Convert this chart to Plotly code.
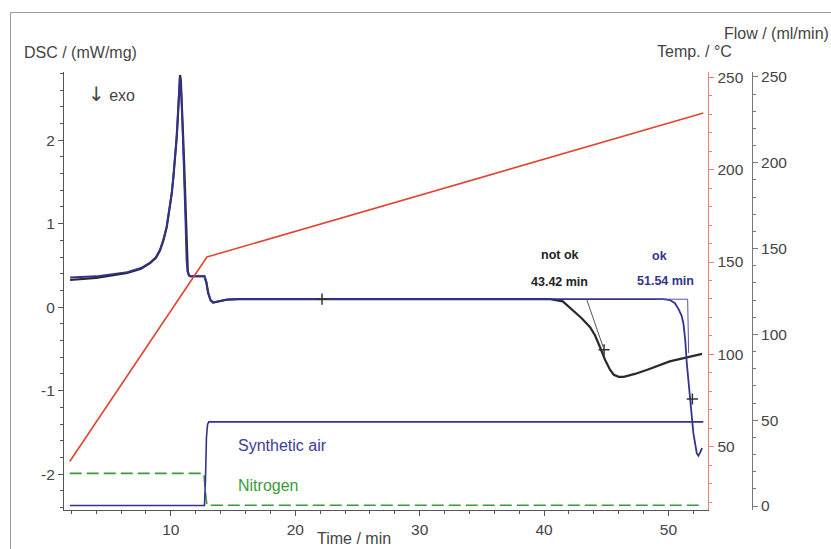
import plotly.graph_objects as go

# ---------------- data ----------------
# DSC, sample "not ok" (black)
t_dsc_black = [1.9, 4.0, 6.5, 7.6, 8.33, 8.8, 9.13, 9.4, 9.67, 9.9, 10.07, 10.2, 10.34, 10.45, 10.52, 10.6,
               10.68, 10.74, 10.8, 10.88, 10.97, 11.06, 11.17, 11.28, 11.36, 11.46, 11.55, 12.7, 12.85,
               13.0, 13.2, 13.4, 13.8, 14.5, 15.5, 22.0, 30.0, 38.0, 40.5,
               41.5, 42.36, 43.0, 43.7, 44.1, 44.5, 44.9, 45.3, 45.6, 46.0, 46.4, 47.3, 48.3, 50.1,
               51.5, 52.7]
dsc_black = [0.325, 0.35, 0.41, 0.46, 0.526, 0.59, 0.68, 0.80, 0.96, 1.17, 1.36, 1.55, 1.76, 2.0, 2.16, 2.4,
             2.65, 2.78, 2.72, 2.5, 2.1, 1.76, 1.15, 0.56, 0.43, 0.38, 0.37, 0.37, 0.30,
             0.17, 0.08, 0.056, 0.07, 0.09, 0.095, 0.095, 0.095, 0.095, 0.095,
             0.07, -0.04, -0.13, -0.24, -0.34, -0.48, -0.63, -0.75, -0.81, -0.835, -0.835, -0.80, -0.75, -0.65,
             -0.60, -0.56]

# DSC, sample "ok" (blue)
t_dsc_blue = [1.9, 4.0, 6.5, 7.6, 8.33, 8.8, 9.13, 9.4, 9.67, 9.9, 10.07, 10.2, 10.34, 10.45, 10.52, 10.6,
              10.66, 10.72, 10.78, 10.86, 10.95, 11.04, 11.15, 11.26, 11.34, 11.44, 11.55, 12.7, 12.85,
              13.0, 13.2, 13.4, 13.8, 14.5, 15.5, 22.0, 30.0, 40.0, 49.6,
              50.1, 50.5, 50.8, 51.05, 51.2, 51.35, 51.47, 51.74, 52.0, 52.27, 52.4, 52.55, 52.7]
dsc_blue = [0.355, 0.37, 0.42, 0.47, 0.535, 0.60, 0.69, 0.81, 0.97, 1.18, 1.37, 1.56, 1.77, 2.0, 2.17, 2.4,
            2.6, 2.75, 2.7, 2.5, 2.1, 1.76, 1.15, 0.56, 0.43, 0.38, 0.37, 0.37, 0.30,
            0.17, 0.08, 0.056, 0.07, 0.09, 0.095, 0.095, 0.095, 0.095, 0.095,
            0.085, 0.05, -0.02, -0.10, -0.195, -0.40, -0.67, -1.11, -1.51, -1.75, -1.78, -1.74, -1.69]

# Onset tangents
t_tan_black = [43.42, 44.74]
dsc_tan_black = [0.095, -0.475]
t_tan_blue = [49.0, 51.54, 51.62]
dsc_tan_blue = [0.095, 0.095, -0.55]

# Evaluation marks
t_marks = [22.15, 44.82, 51.92]
dsc_marks = [0.096, -0.51, -1.10]

# Temperature program
t_temp = [1.87, 12.9, 52.8]
temp = [42.0, 152.7, 230.7]

# Gas flows
t_air = [1.87, 12.7, 12.78, 12.86, 12.95, 13.05, 52.8]
flow_air = [0.3, 0.3, 15.0, 40.0, 47.5, 49.0, 49.0]
t_n2 = [1.87, 12.65, 12.78, 12.9, 52.8]
flow_n2 = [19.0, 19.0, 8.0, 0.4, 0.4]

# axis ticks
x_ticks = [10, 20, 30, 40, 50]
dsc_ticks = [-2, -1, 0, 1, 2]
dsc_labels = ["-2", "-1", "0", "1", "2"]
temp_ticks = [50, 100, 150, 200, 250]
flow_ticks = [0, 50, 100, 150, 200, 250]

# ---------------- styling ----------------
W, H = 831, 549
ML, MR, MT, MB = 64, 79, 72, 39
PW = W - ML - MR
PH = H - MT - MB
FONT = "Liberation Sans, Arial, sans-serif"
TXT = "#444444"
BLUE = "#33338f"
BLACK = "#2a2a2a"
RED = "#e2452f"
GREEN = "#3a9a3a"


def px(x):
    return (x - ML) / PW


def py(y):
    return (H - MB - y) / PH


fig = go.Figure()

fig.add_trace(go.Scatter(x=t_dsc_black, y=dsc_black, mode="lines",
                         line=dict(color=BLACK, width=2.2), yaxis="y", showlegend=False))
fig.add_trace(go.Scatter(x=t_dsc_blue, y=dsc_blue, mode="lines",
                         line=dict(color=BLUE, width=1.8), yaxis="y", showlegend=False))
fig.add_trace(go.Scatter(x=t_tan_black, y=dsc_tan_black, mode="lines",
                         line=dict(color="#555555", width=1), yaxis="y", showlegend=False))
fig.add_trace(go.Scatter(x=t_tan_blue, y=dsc_tan_blue, mode="lines",
                         line=dict(color="#5555aa", width=1), yaxis="y", showlegend=False))
fig.add_trace(go.Scatter(x=t_marks, y=dsc_marks, mode="markers",
                         marker=dict(symbol="cross-thin", size=8, line=dict(color="#333333", width=1.5)),
                         yaxis="y", showlegend=False))

fig.add_trace(go.Scatter(x=t_temp, y=temp, mode="lines",
                         line=dict(color=RED, width=1.6), yaxis="y2", showlegend=False))

fig.add_trace(go.Scatter(x=t_n2, y=flow_n2, mode="lines",
                         line=dict(color=GREEN, width=1.6, dash="12px,5px"), yaxis="y3", showlegend=False))
fig.add_trace(go.Scatter(x=t_air, y=flow_air, mode="lines",
                         line=dict(color=BLUE, width=1.6), yaxis="y3", showlegend=False))

dom_end = (708.3 - ML) / PW

axis_common = dict(showgrid=False, zeroline=False, showline=True, linewidth=1,
                   ticks="outside", ticklen=5, tickwidth=1,
                   tickfont=dict(family=FONT, size=15.5, color=TXT))

fig.update_layout(
    width=W, height=H,
    margin=dict(l=ML, r=MR, t=MT, b=MB),
    paper_bgcolor="white", plot_bgcolor="white",
    font=dict(family=FONT, color=TXT),
    xaxis=dict(domain=[0, dom_end], range=[1.41, 53.2], tickvals=x_ticks,
               linecolor="#555555", tickcolor="#555555",
               minor=dict(dtick=2, tick0=0, ticks="outside", ticklen=3, tickcolor="#555555"),
               **axis_common),
    yaxis=dict(range=[-2.43, 2.817], tickvals=dsc_ticks, ticktext=dsc_labels,
               linecolor="#555555", tickcolor="#555555",
               minor=dict(dtick=0.2, tick0=0, ticks="outside", ticklen=3, tickcolor="#555555"),
               **axis_common),
    yaxis2=dict(overlaying="y", side="right", anchor="x", range=[15.7, 252.9], tickvals=temp_ticks,
                linecolor="#e88080", tickcolor="#e88080",
                minor=dict(dtick=10, tick0=0, ticks="outside", ticklen=3, tickcolor="#e88080"),
                **axis_common),
    yaxis3=dict(overlaying="y", side="right", anchor="free", position=1.0, range=[-2.33, 252.9],
                tickvals=flow_ticks, linecolor="#777777", tickcolor="#777777",
                minor=dict(dtick=10, tick0=0, ticks="outside", ticklen=3, tickcolor="#777777"),
                **axis_common),
)


def ann(text, x, y, size=16, color=TXT, bold=False, xanchor="center"):
    fig.add_annotation(text=("<b>%s</b>" % text) if bold else text,
                       x=px(x), y=py(y), xref="paper", yref="paper",
                       xanchor=xanchor, yanchor="middle", showarrow=False,
                       font=dict(family=FONT, size=size, color=color))


ann("DSC / (mW/mg)", 22, 53, xanchor="left")
ann("<span style='font-family:DejaVu Sans;font-size:20px'>\u2193</span> exo", 86, 94, xanchor="left")
ann("Temp. / \u00b0C", 655, 52, xanchor="left")
ann("Flow / (ml/min)", 722, 33, xanchor="left")
ann("Time / min", 354, 538)
ann("not ok", 559.5, 255, size=12.5, color="#222222", bold=True)
ann("43.42 min", 559, 282, size=12.5, color="#222222", bold=True)
ann("ok", 659.5, 256, size=12.5, color=BLUE, bold=True)
ann("51.54 min", 665, 281, size=12.5, color=BLUE, bold=True)
ann("Synthetic air", 236, 445, color="#3c3c9a", xanchor="left")
ann("Nitrogen", 236, 485, color=GREEN, xanchor="left")

# outer frame (top and left edges visible)
fig.add_shape(type="line", xref="paper", yref="paper", x0=px(10.5), x1=px(835), y0=py(12.5), y1=py(12.5),
              line=dict(color="#9a9a9a", width=1))
fig.add_shape(type="line", xref="paper", yref="paper", x0=px(10.5), x1=px(10.5), y0=py(12.5), y1=py(552),
              line=dict(color="#9a9a9a", width=1))

fig.write_html("out.html", config={"displayModeBar": False},
               post_script="document.body.style.margin='0px';document.body.style.overflow='hidden';")
